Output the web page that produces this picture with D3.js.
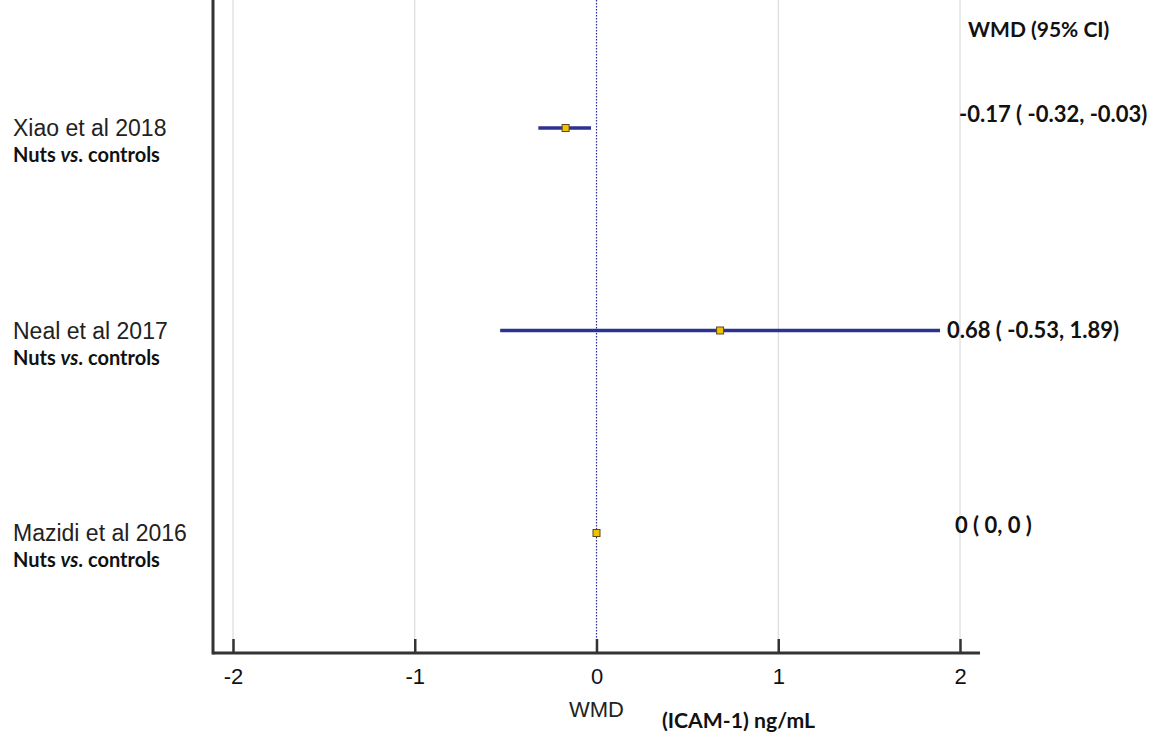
<!DOCTYPE html>
<html>
<head>
<meta charset="utf-8">
<script src="https://cdn.jsdelivr.net/npm/d3@7"></script>
<style>
  html, body { margin: 0; padding: 0; background: #fff; }
  svg { display: block; }
</style>
</head>
<body>
<svg id="chart" width="1157" height="740"></svg>
<script>
// Study rows
const studies = ["Xiao et al 2018", "Neal et al 2017", "Mazidi et al 2016"];
const wmd = [-0.17, 0.68, 0];
const ciLow = [-0.32, -0.53, 0];
const ciHigh = [-0.03, 1.89, 0];
const ciLabels = ["-0.17 ( -0.32, -0.03)", "0.68 ( -0.53, 1.89)", "0 ( 0, 0 )"];
const xTicks = [-2, -1, 0, 1, 2];

const svg = d3.select("#chart");

const x = d3.scaleLinear().domain([-2, 2]).range([233, 960]);
const y = d3.scalePoint().domain(studies).range([128, 533]);

const axisY = 653;
const sansArial = "'Liberation Sans', Arial, sans-serif";
const sansBold = "Lato, 'Open Sans', sans-serif";

// vertical grid lines at non-zero ticks
svg.append("g").selectAll("line")
  .data(xTicks.filter(d => d !== 0))
  .join("line")
  .attr("x1", d => x(d)).attr("x2", d => x(d))
  .attr("y1", 0).attr("y2", axisY)
  .attr("stroke", "#d4d4d4").attr("stroke-width", 1);

// line of no effect
svg.append("line")
  .attr("x1", x(0)).attr("x2", x(0))
  .attr("y1", 0).attr("y2", axisY)
  .attr("stroke", "#2b2f8f").attr("stroke-width", 1.2)
  .attr("stroke-dasharray", "1.5,1.5");

// x axis
const xAxis = d3.axisBottom(x).tickValues(xTicks).tickSize(0).tickPadding(0)
  .tickFormat(d3.format("d"));
const gx = svg.append("g").attr("transform", `translate(0,${axisY})`).call(xAxis);
gx.select(".domain").remove();
gx.selectAll("text")
  .attr("dy", null).attr("y", 31)
  .attr("font-family", sansArial).attr("font-size", 22).attr("fill", "#111")
  .text(d => d < 0 ? "-" + Math.abs(d) : d);
// tick marks pointing up
gx.selectAll(".tick").append("line")
  .attr("y1", 0).attr("y2", -14)
  .attr("stroke", "#333").attr("stroke-width", 2.5);

// axis frame: left and bottom
svg.append("line")
  .attr("x1", 213).attr("x2", 980).attr("y1", axisY).attr("y2", axisY)
  .attr("stroke", "#333").attr("stroke-width", 3);
svg.append("line")
  .attr("x1", 213).attr("x2", 213).attr("y1", 0).attr("y2", axisY + 1.5)
  .attr("stroke", "#333").attr("stroke-width", 3);

// axis titles
svg.append("text")
  .attr("x", x(0)).attr("y", 717).attr("text-anchor", "middle")
  .attr("font-family", sansArial).attr("font-size", 22).attr("fill", "#222")
  .text("WMD");
svg.append("text")
  .attr("x", 662).attr("y", 728)
  .attr("font-family", sansBold).attr("font-weight", "bold").attr("font-size", 21.2).attr("fill", "#111")
  .text("(ICAM-1) ng/mL");

// header
svg.append("text")
  .attr("x", 968).attr("y", 37)
  .attr("font-family", sansBold).attr("font-weight", "bold").attr("font-size", 21).attr("fill", "#111")
  .text("WMD (95% CI)");

// confidence intervals
const rows = svg.append("g").selectAll("g").data(studies).join("g");
rows.append("line")
  .attr("x1", (d, i) => x(ciLow[i])).attr("x2", (d, i) => x(ciHigh[i]))
  .attr("y1", d => y(d)).attr("y2", d => y(d))
  .attr("stroke", "#2e3192").attr("stroke-width", 3.5);
rows.append("rect")
  .attr("x", (d, i) => x(wmd[i]) - 3.5).attr("y", d => y(d) - 3.5)
  .attr("width", 7).attr("height", 7)
  .attr("fill", "#f2c200").attr("stroke", "#5a4a1a").attr("stroke-width", 1);

// study labels
rows.append("text")
  .attr("x", 13).attr("y", d => y(d) + 8)
  .attr("font-family", sansArial).attr("font-size", 23).attr("fill", "#222")
  .text(d => d);
const sub = rows.append("text")
  .attr("x", 13).attr("y", d => y(d) + 34)
  .attr("font-family", sansBold).attr("font-weight", "bold").attr("font-size", 20).attr("fill", "#111");
sub.append("tspan").text("Nuts ");
sub.append("tspan").attr("font-style", "italic").text("vs");
sub.append("tspan").text(". controls");

// estimate labels
const labelX = [959, 947, 955];
const labelDy = [-6, 7, 0];
rows.append("text")
  .attr("x", (d, i) => labelX[i]).attr("y", (d, i) => y(d) + labelDy[i])
  .attr("font-family", sansBold).attr("font-weight", "bold").attr("font-size", 22).attr("fill", "#111")
  .text((d, i) => ciLabels[i]);
</script>
</body>
</html>
